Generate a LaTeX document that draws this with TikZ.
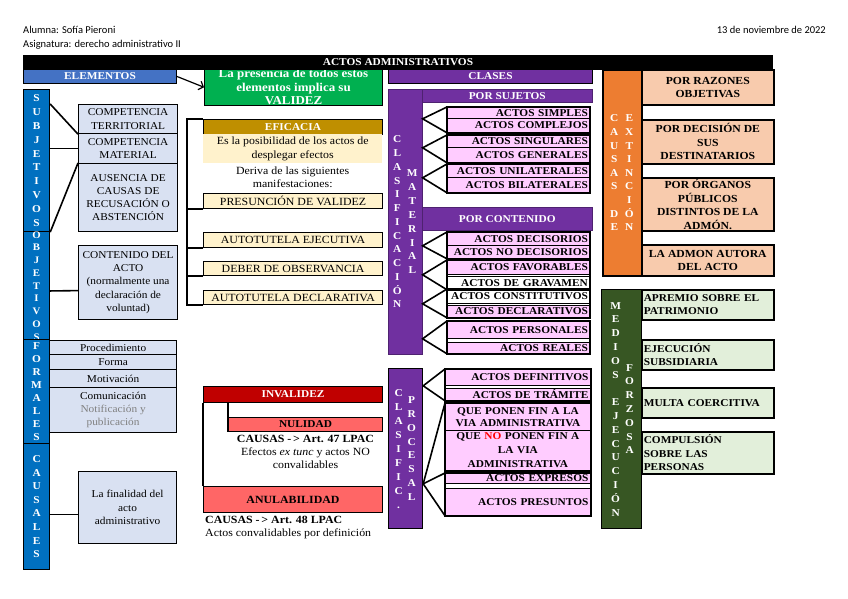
\documentclass[tikz,border=0pt]{standalone}
\usepackage{fontspec}
\setmainfont{Liberation Serif}[FakeStretch=1.08]
\newfontfamily\hdrfont{Carlito}
\usetikzlibrary{arrows.meta, positioning, calc}
\definecolor{blueel}{HTML}{4472C4}
\definecolor{bluebar}{HTML}{0070C0}
\definecolor{lblue}{HTML}{D9E1F2}
\definecolor{grval}{HTML}{00B050}
\definecolor{purp}{HTML}{7030A0}
\definecolor{pinkbx}{HTML}{FFCCFF}
\definecolor{orng}{HTML}{ED7D31}
\definecolor{peach}{HTML}{F8CBAD}
\definecolor{dgreen}{HTML}{375623}
\definecolor{lgreen}{HTML}{E2EFDA}
\definecolor{gold}{HTML}{BF8F00}
\definecolor{lyel}{HTML}{FFF2CC}
\definecolor{dred}{HTML}{C00000}
\definecolor{salmon}{HTML}{FF6666}

\begin{document}
\begin{tikzpicture}[x=1pt, y=-1pt,
    every node/.style={inner sep=0pt},
    hdr/.style={font=\hdrfont\fontsize{10.5}{12}\selectfont},
    bx/.style={anchor=north west, align=center, font=\fontsize{10.5}{13}\selectfont},
    sz/.style 2 args={minimum width=#1, minimum height=#2},
    bar/.style={bx, fill=#1, draw=black, line width=1pt, text=white, font=\bfseries\fontsize{10.5}{12}\selectfont},
    strip/.style={bx, fill=#1, draw=black, line width=1.2pt},
    vcol/.style={text=white, align=center, font=\bfseries\fontsize{10.5}{#1}\selectfont},
    lb/.style={bx, fill=lblue, draw=black, line width=1.2pt, font=\fontsize{10.5}{13.3}\selectfont},
    yb/.style={bx, fill=lyel, draw=black, line width=1.2pt, font=\fontsize{11}{13}\selectfont},
    pk/.style={bx, fill=pinkbx, draw=black, line width=.8pt, align=right, text width=#1, font=\bfseries\fontsize{10.5}{12}\selectfont},
    pk/.default=139,
    pr/.style={draw=black, line width=1.6pt},
    ob/.style={bx, fill=peach, draw=black, line width=1.6pt, font=\bfseries\fontsize{10.8}{13.5}\selectfont},
    gb/.style={bx, fill=lgreen, draw=black, line width=1.6pt, align=left, text width=128, font=\bfseries\fontsize{10.5}{13.3}\selectfont},
    brk/.style={line width=1.6pt},
    arr/.style={-{Straight Barb[length=4pt, width=9pt]}, line width=1.2pt}
]
    \useasboundingbox (0,0) rectangle (848,599);

    % ===== Cabecera =====
    \node[hdr, anchor=base west] (alumna) at (23,34) {Alumna: Sofía Pieroni};
    \node[hdr, anchor=base west] (asig)   at (23,48) {Asignatura: derecho administrativo II};
    \node[hdr, anchor=base east] (fecha)  at (826,34) {13 de noviembre de 2022};

    \node[bar=grval, sz={178}{35}, font=\bfseries\fontsize{12}{13.5}\selectfont] (validez) at (204,69)
        {La presencia de todos estos\\elementos implica su\\VALIDEZ};
    \node[bar=black, sz={749}{14}] (titulo) at (23,55) {ACTOS ADMINISTRATIVOS};
    \node[bar=blueel, sz={153}{14}] (elementos) at (23,69) {ELEMENTOS};
    \node[bar=purp, sz={204}{14}] (clases) at (388,69) {CLASES};
    \draw[arr] (elementos.east) -- (validez.west);

    % ===== Elementos (izquierda) =====
    \node[strip=bluebar, sz={26}{142}, text=white, font=\bfseries\fontsize{10.5}{13.9}\selectfont] (subj) at (23,89)
        {S\\U\\B\\J\\E\\T\\I\\V\\O\\S};
    \node[strip=bluebar, sz={26}{108}, text=white, font=\bfseries\fontsize{10}{12.75}\selectfont] (obj) at (23,231)
        {O\\B\\J\\E\\T\\I\\V\\O\\S};
    \node[strip=bluebar, sz={26}{104}, text=white, font=\bfseries\fontsize{10.5}{13}\selectfont] (form) at (23,339)
        {F\\O\\R\\M\\A\\L\\E\\S};
    \node[strip=bluebar, sz={26}{126}, text=white, font=\bfseries\fontsize{10.5}{13.6}\selectfont] (caus) at (23,443)
        {C\\A\\U\\S\\A\\L\\E\\S};

    \node[lb, sz={99}{29}] (terr) at (78,104) {COMPETENCIA\\TERRITORIAL};
    \node[lb, sz={99}{30}] (mat)  at (78,133) {COMPETENCIA\\MATERIAL};
    \node[lb, sz={99}{68}] (ause) at (78,163) {AUSENCIA DE\\CAUSAS DE\\RECUSACIÓN O\\ABSTENCIÓN};
    \node[lb, sz={99}{74}] (cont) at (78,245) {CONTENIDO DEL\\ACTO\\(normalmente una\\declaración de\\voluntad)};
    \node[lb, sz={127}{14}] (proc)  at (49,340) {Procedimiento};
    \node[lb, sz={127}{15}] (forma) at (49,354) {Forma};
    \node[lb, sz={127}{18}] (motiv) at (49,369) {Motivación};
    \node[lb, sz={127}{45}] (comun) at (49,387) {Comunicación\\{\color{gray}Notificación y}\\{\color{gray}publicación}};
    \node[lb, sz={98}{72}] (fin) at (78,471) {La finalidad del\\acto\\administrativo};

    \draw[brk] (subj.east |- terr.north) -- (terr.south west);
    \draw[brk] (subj.east |- mat) -- (mat.west);
    \draw[brk] (subj.south east) -- (ause.north west);
    \draw[brk] ([yshift=-5pt]obj.east) -- ([yshift=-8pt]cont.west);
    \draw[brk] ([yshift=-8pt]caus.east) -- ([yshift=-7pt]fin.west);

    % ===== Eficacia =====
    \node[bar=gold, sz={179}{15}] (efic) at (203,119) {EFICACIA};
    \node[bx, fill=lyel, sz={179}{29}, font=\fontsize{11}{13.5}\selectfont] (efdef) at (203,134)
        {Es la posibilidad de los actos de\\desplegar efectos};
    \node[align=center, font=\fontsize{11}{13}\selectfont, below=3pt of efdef] (deriva)
        {Deriva de las siguientes\\manifestaciones:};
    \node[yb, sz={179}{15}] (presun) at (203,193) {PRESUNCIÓN DE VALIDEZ};
    \node[yb, sz={179}{15}] (autej)  at (203,232) {AUTOTUTELA EJECUTIVA};
    \node[yb, sz={179}{14}] (deber)  at (203,261) {DEBER DE OBSERVANCIA};
    \node[yb, sz={179}{14}] (autdec) at (203,290) {AUTOTUTELA DECLARATIVA};
    \coordinate (efTop) at (187,119);
    \draw[brk] (efic.north west) -- (efTop) |- (autdec.south west);
    \draw[brk] (presun.south west) -- (efTop |- presun.south);
    \draw[brk] (autej.south west) -- (efTop |- autej.south);
    \draw[brk] (deber.south west) -- (efTop |- deber.south);

    % ===== Invalidez =====
    \node[bar=dred, sz={179}{16}] (inval) at (203,386) {INVALIDEZ};
    \node[bar=salmon, sz={154}{14}, text=black] (nul) at (228,417) {NULIDAD};
    \node[align=center, font=\fontsize{11}{13}\selectfont, below=3pt of nul] (nultxt)
        {\textbf{CAUSAS -\,> Art. 47 LPAC}\\Efectos \textit{ex tunc} y actos NO\\convalidables};
    \node[bar=salmon, sz={179}{26}, text=black, font=\bfseries\fontsize{11}{12}\selectfont] (anul) at (203,486) {ANULABILIDAD};
    \node[anchor=north west, align=left, font=\fontsize{11}{13}\selectfont] (anultxt) at (205,516)
        {\textbf{CAUSAS -\,> Art. 48 LPAC}\\Actos convalidables por definición};
    \draw[brk] (inval.south west) -- (anul.north west);
    \draw[brk] (inval.south -| nul.west) -- (nul.south west);

    % ===== Clasificacion material =====
    \node[strip=purp, sz={34}{265}, draw=purp!70!black, line width=.6pt] (matstrip) at (388,89) {};
    \node[vcol=13.75] (matC) at ([xshift=-8pt]matstrip.center) {C\\L\\A\\S\\I\\F\\I\\C\\A\\C\\I\\Ó\\N};
    \node[vcol=13.9] (matM) at ([xshift=7pt]matstrip.center) {M\\A\\T\\E\\R\\I\\A\\L};
    \node[bar=purp, sz={170}{13}, draw=purp!70!black, line width=.6pt] (porsuj) at (422,89) {POR SUJETOS};
    \node[bar=purp, sz={170}{23}, draw=purp!70!black, line width=.6pt] (porcont) at (422,207) {POR CONTENIDO};

    \node[pk, sz={142}{11}] (simp)  at (447,107) {ACTOS SIMPLES};
    \node[pk, sz={142}{14}] (compl) at (447,118) {ACTOS COMPLEJOS};
    \node[pk, sz={142}{12}] (sing)  at (447,135) {ACTOS SINGULARES};
    \node[pk, sz={142}{15}] (gen)   at (447,147) {ACTOS GENERALES};
    \node[pk, sz={142}{13}] (unil)  at (447,164) {ACTOS UNILATERALES};
    \node[pk, sz={142}{15}] (bil)   at (447,177) {ACTOS BILATERALES};

    \node[pk, sz={142}{13}] (dec)   at (447,232) {ACTOS DECISORIOS};
    \node[pk, sz={142}{13}] (nodec) at (447,245) {ACTOS NO DECISORIOS};
    \node[pk, sz={142}{14}] (fav)   at (447,260) {ACTOS FAVORABLES};
    \node[pk, sz={142}{13}, fill=white] (grav)  at (447,276) {ACTOS DE GRAVAMEN};
    \node[pk, sz={142}{14}, fill=white] (const) at (447,289) {ACTOS CONSTITUTIVOS};
    \node[pk, sz={142}{12}] (decl)  at (447,305) {ACTOS DECLARATIVOS};
    \node[pk, sz={142}{17}] (pers)  at (447,321) {ACTOS PERSONALES};
    \node[pk, sz={142}{11}] (real)  at (447,342) {ACTOS REALES};

    \foreach \a/\b in {simp/compl, sing/gen, unil/bil, dec/nodec, fav/grav, const/decl, pers/real} {
        \draw[pr] (\a.north west) rectangle (\b.south east);
        \draw[brk] (\a.north west) -- (matstrip.east |- \a.south) -- (\b.south west);
    }

    % ===== Clasificacion procesal =====
    \node[strip=purp, sz={34}{160}] (procstrip) at (388,368) {};
    \node[vcol=14] (procC) at ([xshift=-7pt]procstrip.center) {C\\L\\A\\S\\I\\F\\I\\C\\.};
    \node[vcol=13.9] (procP) at ([xshift=6pt]procstrip.center) {P\\R\\O\\C\\E\\S\\A\\L};

    \node[pk=141, sz={145}{16}] (defin) at (445,369) {ACTOS DEFINITIVOS};
    \node[pk=141, sz={145}{12}] (tram)  at (445,388) {ACTOS DE TRÁMITE};
    \node[pk=141, sz={145}{27}, align=center] (pfin)  at (445,403) {QUE PONEN FIN A LA\\VIA ADMINISTRATIVA};
    \node[pk=141, sz={145}{40}, align=center, font=\bfseries\fontsize{10.5}{14}\selectfont] (npfin) at (445,430)
        {QUE {\color{red}NO} PONEN FIN A\\LA VIA\\ADMINISTRATIVA};
    \node[pk=141, sz={145}{10}] (expr)  at (445,473) {ACTOS EXPRESOS};
    \node[pk=141, sz={145}{27}] (pres)  at (445,488) {ACTOS PRESUNTOS};

    \draw[pr] (defin.north west) rectangle (tram.south east);
    \draw[pr] (pfin.north west) rectangle (npfin.south east);
    \draw[pr] (expr.north west) rectangle (pres.south east);
    \draw[brk] (defin.north west) -- (procstrip.east |- defin.south) -- (tram.south west);
    \draw[brk] (pfin.north west) -- (procstrip.east |- expr.south) -- (pres.south west);
    \draw[brk] (expr.north west) -- (procstrip.east |- expr.south);

    % ===== Causas de extincion =====
    \node[strip=orng, sz={39}{206}, line width=1.6pt] (causstrip) at (602,69) {};
    \node[vcol=13.6] (causC) at ([xshift=-8pt]causstrip.center) {C\\A\\U\\S\\A\\S\\~\\D\\E};
    \node[vcol=13.6] (causE) at ([xshift=7pt]causstrip.center) {E\\X\\T\\I\\N\\C\\I\\Ó\\N};
    \node[ob, sz={132}{35}] (raz)    at (641,69)  {POR RAZONES\\OBJETIVAS};
    \node[ob, sz={132}{44}] (desti)  at (641,119) {POR DECISIÓN DE\\SUS\\DESTINATARIOS};
    \node[ob, sz={132}{53}] (organ)  at (641,177) {POR ÓRGANOS\\PÚBLICOS\\DISTINTOS DE LA\\ADMÓN.};
    \node[ob, sz={132}{31}] (autora) at (641,244) {LA ADMON AUTORA\\DEL ACTO};

    % ===== Medios de ejecucion forzosa =====
    \node[strip=dgreen, sz={40}{239}] (medstrip) at (601,289) {};
    \node[vcol=13.8] (medM) at ([xshift=-6pt]medstrip.center) {M\\E\\D\\I\\O\\S\\~\\E\\J\\E\\C\\U\\C\\I\\Ó\\N};
    \node[vcol=13.8] (medF) at ([xshift=8pt]medstrip.center) {F\\O\\R\\Z\\O\\S\\A};
    \node[gb, sz={132}{30}] (apremio) at (641,289) {APREMIO SOBRE EL\\PATRIMONIO};
    \node[gb, sz={132}{30}] (subsid)  at (641,339) {EJECUCIÓN\\SUBSIDIARIA};
    \node[gb, sz={132}{30}] (multa)   at (641,387) {MULTA COERCITIVA};
    \node[gb, sz={132}{42}] (compul)  at (641,431) {COMPULSIÓN\\SOBRE LAS\\PERSONAS};
\end{tikzpicture}
\end{document}
